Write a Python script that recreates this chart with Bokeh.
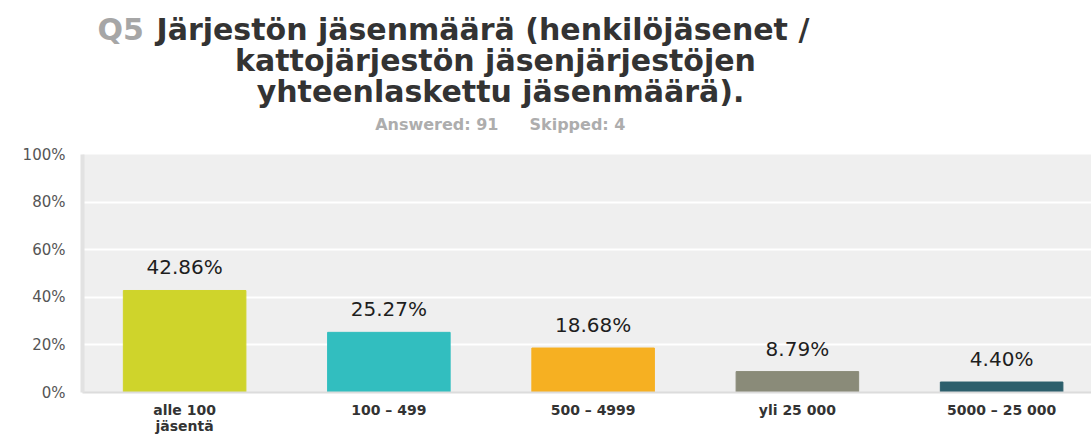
from bokeh.plotting import figure
from bokeh.layouts import column
from bokeh.models import Range1d, ColumnDataSource, LabelSet, FixedTicker
from bokeh.core.properties import value
from bokeh.embed import file_html
from bokeh.resources import INLINE

categories = ["alle 100\njäsentä", "100 – 499", "500 – 4999", "yli 25 000", "5000 – 25 000"]
values = [42.86, 25.27, 18.68, 8.79, 4.40]
value_labels = ["42.86%", "25.27%", "18.68%", "8.79%", "4.40%"]
colors = ["#cfd42b", "#32bebf", "#f6b022", "#8a8b79", "#2d5f6c"]
yticks = [0, 20, 40, 60, 80, 100]
ytick_labels = ["0%", "20%", "40%", "60%", "80%", "100%"]

title_q = "Q5"
title_lines = ["Järjestön jäsenmäärä (henkilöjäsenet /",
               "kattojärjestön jäsenjärjestöjen",
               "yhteenlaskettu jäsenmäärä)."]
answered = "Answered: 91"
skipped = "Skipped: 4"

W = 1091
TH = 140
FL = 82  # frame left (pixels)

# ---------- title figure (pixel coordinates, y from top) ----------
t = figure(width=W, height=TH, output_backend="svg", toolbar_location=None,
           x_range=Range1d(FL, W), y_range=Range1d(TH, 0),
           x_axis_type=None, y_axis_type=None,
           min_border_left=FL, min_border_right=0, min_border_top=0, min_border_bottom=0)
t.outline_line_color = None
t.background_fill_color = "white"
t.border_fill_color = "white"
t.xgrid.grid_line_color = None
t.ygrid.grid_line_color = None
font = value("DejaVu Sans")
t.text(x=[97], y=[29], text=[title_q], text_align="left", text_baseline="middle",
       text_font=font, text_font_style="bold", text_font_size="30px", text_color="#a6a6a6")
t.text(x=[156], y=[29], text=[title_lines[0]], text_align="left", text_baseline="middle",
       text_font=font, text_font_style="bold", text_font_size="30px", text_color="#333333")
t.text(x=[495, 500], y=[60, 91], text=title_lines[1:], text_align="center", text_baseline="middle",
       text_font=font, text_font_style="bold", text_font_size="30px", text_color="#333333")
t.text(x=[498], y=[124], text=[answered], text_align="right", text_baseline="middle",
       text_font=font, text_font_style="bold", text_font_size="16px", text_color="#adadad")
t.text(x=[529], y=[124], text=[skipped], text_align="left", text_baseline="middle",
       text_font=font, text_font_style="bold", text_font_size="16px", text_color="#adadad")

# ---------- chart ----------
xs = list(range(len(categories)))
p = figure(width=W, height=436 - TH, output_backend="svg", toolbar_location=None,
           x_range=Range1d(-0.5, 4.44), y_range=Range1d(0, 100),
           min_border_left=FL, min_border_right=0, min_border_top=14, min_border_bottom=42)
p.background_fill_color = "#efefef"
p.border_fill_color = "white"
p.outline_line_color = None

src = ColumnDataSource(dict(x=xs, top=values, color=colors, lab=value_labels))
p.vbar(x="x", top="top", width=0.6, color="color", source=src)

labels = LabelSet(x="x", y="top", text="lab", source=src, y_offset=16,
                  text_align="center", text_baseline="alphabetic",
                  text_font=value("DejaVu Sans"), text_font_size="20px", text_color="#1e1e1e")
p.add_layout(labels)

p.xaxis.ticker = FixedTicker(ticks=xs)
p.xaxis.major_label_overrides = {i: c for i, c in enumerate(categories)}
p.xaxis.major_label_text_font = "DejaVu Sans"
p.xaxis.major_label_text_font_style = "bold"
p.xaxis.major_label_text_font_size = "14px"
p.xaxis.major_label_text_line_height = 1.0
p.xaxis.major_label_text_color = "#333333"
p.xaxis.major_label_standoff = 9
p.xaxis.axis_line_color = "#dcdcdc"
p.xaxis.axis_line_width = 2
p.xaxis.major_tick_out = 0
p.xaxis.major_tick_in = 0
p.xaxis.major_tick_line_color = None
p.xaxis.minor_tick_line_color = None

p.yaxis.ticker = FixedTicker(ticks=yticks)
p.yaxis.major_label_overrides = {tk: l for tk, l in zip(yticks, ytick_labels)}
p.yaxis.major_label_text_font = "DejaVu Sans"
p.yaxis.major_label_text_font_size = "15px"
p.yaxis.major_label_text_color = "#555555"
p.yaxis.major_label_standoff = 17
p.yaxis.axis_line_color = "#e2e2e2"
p.yaxis.axis_line_width = 4
p.yaxis.major_tick_out = 0
p.yaxis.major_tick_in = 0
p.yaxis.major_tick_line_color = None
p.yaxis.minor_tick_line_color = None

p.xgrid.grid_line_color = None
p.ygrid.grid_line_color = "white"
p.ygrid.grid_line_width = 2

layout = column(t, p, spacing=0)
open("out.html", "w").write(file_html(layout, INLINE))
